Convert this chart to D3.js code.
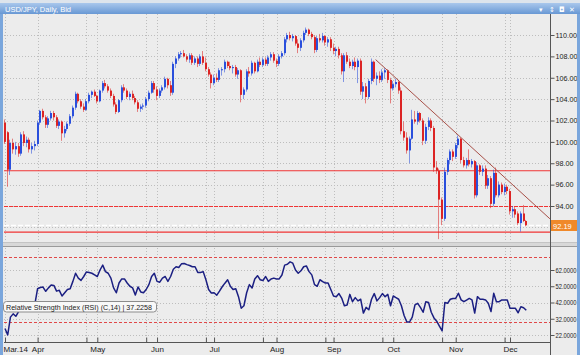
<!DOCTYPE html>
<html>
<head>
<meta charset="utf-8">
<script src="https://cdn.jsdelivr.net/npm/d3@7/dist/d3.min.js"></script>
<style>
  html, body { margin: 0; padding: 0; background: #ececec; }
  svg { display: block; font-family: "Liberation Sans", Arial, sans-serif; }
</style>
</head>
<body>
<div id="chart"></div>
<script>
// USD/JPY daily bars, one row per trading day: open, high, low, close
const ohlc = [
  [101.8,102.1,99.8,100.0],[100.9,101.0,95.8,97.4],[97.4,100.2,96.9,99.9],[99.9,100.3,98.9,99.3],
  [99.3,100.0,98.8,99.6],[99.6,99.9,98.6,98.9],[98.9,100.9,98.7,100.7],[100.7,101.0,99.6,99.9],
  [99.9,100.5,99.5,100.2],[100.2,100.4,99.0,99.3],[99.3,99.9,98.9,99.6],[99.6,100.1,99.2,99.8],
  [99.8,102.0,99.6,101.8],[101.8,103.0,101.6,102.9],[102.9,103.1,102.1,102.3],[102.3,102.5,101.3,101.6],
  [101.6,102.4,101.3,102.2],[102.2,102.9,102.0,102.7],[102.7,102.9,102.0,102.3],[102.3,102.5,101.3,101.5],
  [101.5,102.1,101.2,101.9],[101.9,102.0,100.1,100.8],[100.8,101.5,100.4,101.2],[101.2,101.9,101.0,101.7],
  [101.7,102.6,101.5,102.4],[102.4,103.4,102.2,103.2],[103.2,104.7,103.0,104.5],[104.5,104.6,103.6,103.8],
  [103.8,104.0,103.1,103.3],[103.3,103.6,102.8,103.0],[103.0,104.0,102.9,103.8],[103.8,104.6,103.6,104.4],
  [104.4,104.8,104.1,104.7],[104.7,104.9,104.2,104.3],[104.3,104.4,103.6,103.8],[103.8,104.9,103.7,104.8],
  [104.8,105.7,104.6,105.5],[105.5,105.8,105.0,105.2],[105.2,105.4,104.6,104.8],[104.8,105.0,104.1,104.3],
  [104.3,104.5,103.3,103.5],[103.5,103.7,102.6,102.8],[102.8,104.0,102.7,103.9],[103.9,105.3,103.7,105.1],
  [105.1,105.4,104.6,104.8],[104.8,105.0,104.0,104.2],[104.2,104.7,103.9,104.5],[104.5,104.8,103.9,104.1],
  [104.1,104.3,103.5,103.7],[103.7,103.9,102.8,103.1],[103.1,103.5,102.8,103.3],[103.3,103.6,103.0,103.4],
  [103.4,104.2,103.2,104.0],[104.0,104.8,103.8,104.6],[104.6,105.7,104.5,105.5],[105.5,105.7,104.6,104.9],
  [104.9,105.2,103.9,104.3],[104.3,105.0,104.1,104.8],[104.8,105.3,104.6,105.1],[105.1,106.1,104.9,105.9],
  [105.9,106.0,105.0,105.3],[105.3,105.7,104.3,104.6],[104.6,107.5,104.4,107.3],[107.3,108.0,106.9,107.8],
  [107.8,108.4,107.6,108.2],[108.2,108.5,107.9,108.3],[108.3,108.6,107.9,108.0],[108.0,108.2,107.5,107.7],
  [107.7,108.3,107.4,108.1],[108.1,108.3,107.2,107.4],[107.4,108.0,107.2,107.8],[107.8,108.0,107.0,107.3],
  [107.3,108.2,107.1,108.0],[108.0,108.5,107.2,107.4],[107.4,107.9,106.6,106.8],[106.8,107.0,106.1,106.3],
  [106.3,106.5,105.0,105.5],[105.5,106.3,105.3,106.0],[106.0,106.4,105.6,105.8],[105.8,106.9,105.6,106.7],
  [106.7,107.0,106.2,106.8],[106.8,107.7,106.5,107.5],[107.5,107.6,106.9,107.1],[107.1,107.5,106.7,106.9],
  [106.9,107.2,106.4,107.0],[107.0,107.2,106.1,106.3],[106.3,106.9,105.9,106.7],[106.7,106.8,103.7,104.4],
  [104.4,105.1,104.0,104.9],[104.9,106.8,104.7,106.6],[106.6,107.0,106.1,106.4],[106.4,107.6,106.2,107.4],
  [107.4,107.5,106.4,106.6],[106.6,107.7,106.5,107.5],[107.5,107.9,107.0,107.2],[107.2,107.9,107.0,107.7],
  [107.7,107.9,107.1,107.3],[107.3,108.1,107.1,107.9],[107.9,108.4,107.6,108.2],[108.2,108.4,107.4,107.6],
  [107.6,107.8,107.0,107.3],[107.3,108.2,107.1,108.0],[108.0,108.5,107.8,108.3],[108.3,109.8,108.1,109.6],
  [109.6,110.2,109.3,110.0],[110.0,110.3,109.5,109.7],[109.7,110.1,109.4,109.9],[109.9,110.0,109.0,109.2],
  [109.2,109.6,108.3,108.8],[108.8,109.7,108.5,109.5],[109.5,110.4,109.3,110.2],[110.2,110.7,110.0,110.5],
  [110.5,110.6,109.9,110.1],[110.1,110.3,109.6,109.8],[109.8,110.0,108.3,108.6],[108.6,109.9,108.4,109.7],
  [109.7,110.1,109.3,109.5],[109.5,110.2,109.3,109.9],[109.9,110.0,109.0,109.3],[109.3,109.8,108.9,109.6],
  [109.6,109.8,108.5,108.8],[108.8,109.2,108.2,108.5],[108.5,108.9,108.0,108.7],[108.7,108.9,107.8,108.1],
  [108.1,108.3,106.3,106.6],[106.6,108.3,105.6,108.1],[108.1,108.4,107.3,107.5],[107.5,107.8,106.9,107.1],
  [107.1,107.7,106.8,107.5],[107.5,107.9,106.7,107.0],[107.0,107.8,105.5,107.6],[107.6,107.8,104.4,104.7],
  [104.7,105.6,104.0,105.2],[105.2,105.5,103.6,104.2],[104.2,105.9,104.0,105.7],[105.7,107.8,105.4,107.5],
  [107.5,107.6,105.6,105.9],[105.9,106.5,105.3,106.2],[106.2,106.6,105.5,105.8],[105.8,106.8,105.6,106.5],
  [106.5,106.9,105.9,106.7],[106.7,106.8,105.5,105.8],[105.8,106.0,103.6,105.0],[105.0,105.7,104.8,105.4],
  [105.4,105.9,105.1,105.6],[105.6,105.8,104.5,104.8],[104.8,105.1,100.7,101.0],[101.0,101.9,100.1,100.4],
  [100.4,100.9,98.9,99.2],[99.2,100.5,98.0,100.3],[100.3,103.0,100.2,102.1],[102.1,102.9,101.7,101.9],
  [101.9,102.9,101.6,102.7],[102.7,102.8,101.8,102.0],[102.0,102.2,99.7,100.1],[100.1,101.7,99.8,101.4],
  [101.4,102.3,101.1,102.0],[102.0,102.2,101.0,101.3],[101.3,101.5,97.2,97.6],[97.6,98.2,97.0,97.3],
  [97.3,97.5,90.9,94.6],[94.6,94.8,92.2,92.8],[92.8,97.6,92.6,97.2],[97.2,98.5,96.9,98.3],
  [98.3,99.3,97.9,99.1],[99.1,99.3,98.2,98.6],[98.6,99.9,98.4,99.7],[99.7,100.6,99.4,100.3],
  [100.3,100.4,98.0,98.3],[98.3,98.6,97.6,97.8],[97.8,98.5,97.5,98.3],[98.3,99.3,97.7,97.9],
  [97.9,98.4,97.6,98.2],[98.2,98.3,94.7,95.0],[95.0,98.1,94.8,97.8],[97.8,97.9,96.9,97.2],
  [97.2,97.8,96.8,97.5],[97.5,97.8,95.6,95.9],[95.9,96.9,95.6,96.6],[96.6,96.8,93.8,94.2],
  [94.2,97.4,94.0,97.1],[97.1,97.6,94.8,95.0],[95.0,96.3,94.8,96.0],[96.0,96.2,95.1,95.3],
  [95.3,96.1,95.0,95.8],[95.8,96.0,95.1,95.4],[95.4,95.6,93.2,93.5],[93.5,94.0,92.9,93.7],
  [93.7,93.9,92.9,93.2],[93.3,93.5,92.2,92.4],[92.4,93.5,91.6,93.3],[93.3,94.1,92.5,92.6],
  [92.6,92.7,92.1,92.19]
];

// RSI(14) on close, one value per bar
const rsi = [
  26,22,33,35,33.5,36.4,37.5,39,38,40.5,39,41,50.5,51.2,51.5,48.9,51,52.8,52.5,49,
  49.5,46,48,50,50.5,55,60,57,55.6,58,60.8,60.5,60,59,58,62,65,61,60,57,
  51,48,54,56.5,56.5,54,52,51,46.6,51.6,48.5,48,50,53,58,60,55,54.5,57,58,
  55,58,62.5,64,63.5,65.8,66,65.3,64.8,64,64,60.5,60.5,61,56,50,47.8,48,46.5,49,
  51.7,53.9,56,52,50,50.5,45.6,38.5,40,48,53,50.9,56.5,58.5,56,55.5,58,55,56.5,57,
  56.5,56.5,58.9,65,65.5,67,66.2,62,60,61.5,64,64.5,61,59,53,52,56,54.9,54,54,
  50,46,45.5,47.5,44.7,40,40.4,47,42.5,45,43,44,35.5,39,37.5,44,47.5,43,45,47.5,
  45.6,47,40,46,45,44,40,34,30,30,33,40.5,41.5,39,36,42.5,42,36,32.5,30.5,
  27.5,24.5,42,41.5,44,44.5,44.5,47.7,43.6,42.5,43.5,44.5,43.6,35.5,45.6,44,44,43.6,41.5,36.4,
  47.7,42.5,42.5,43.6,43.6,43.6,38.4,38.4,38.4,35.7,39.4,38.8,37.2
];

const monthTicks = [0, 12, 34, 56, 77, 100, 121, 143, 166, 186];
const monthLabels = ["Mar.14", "Apr", "May", "Jun", "Jul", "Aug", "Sep", "Oct", "Nov", "Dec"];
const weekTicks = [30, 52, 74, 95, 118, 139, 161, 184];
const priceTicks = [94, 96, 98, 100, 102, 104, 106, 108, 110];
const rsiTicks = [22, 32, 42, 52, 62];
const rsiBands = [30, 70];
const solidLevels = [97.3, 91.55];
const dashedLevels = [94];
const lastPrice = 92.19;
const lastRsi = "37.2258";
const trendline = [[136.5, 107.7], [200.7, 92.8]];

const width = 580, height = 355;
const left = 4, axisX = 550;
const mainTop = 14, mainBottom = 242, rsiTop = 248, rsiBottom = 342;
const upColor = "#2a4fdc", downColor = "#dc2424";
const levelColor = "#f03434";

const x = d3.scaleLinear().domain([0, 186]).range([5, 510]);
const y = d3.scaleLinear().domain([94, 110]).range([206, 35]);
const yR = d3.scaleLinear().domain([22, 62]).range([335, 270]);
const px = i => Math.round(x(i));
const crisp = v => Math.round(v) + 0.5;

const svg = d3.select("#chart").append("svg")
    .attr("width", width)
    .attr("height", height)
    .attr("viewBox", [0, 0, width, height]);

const defs = svg.append("defs");
defs.append("clipPath").attr("id", "clipMain")
  .append("rect").attr("x", left).attr("y", mainTop).attr("width", axisX - left).attr("height", mainBottom - mainTop);
defs.append("clipPath").attr("id", "clipRsi")
  .append("rect").attr("x", left).attr("y", rsiTop).attr("width", axisX - left).attr("height", rsiBottom - rsiTop);
const grad = defs.append("linearGradient").attr("id", "bar").attr("x1", 0).attr("y1", 0).attr("x2", 0).attr("y2", 1);
grad.append("stop").attr("offset", 0).attr("stop-color", "#a9c7ec");
grad.append("stop").attr("offset", 1).attr("stop-color", "#6898d4");

svg.append("rect").attr("width", width).attr("height", height).attr("fill", "#ececec");

// title bar
svg.append("rect").attr("width", width).attr("height", 3).attr("fill", "#dde4ec");
svg.append("rect").attr("y", 3).attr("width", width).attr("height", 11).attr("fill", "url(#bar)");
svg.append("text").attr("x", 5).attr("y", 11.5).attr("font-size", 7.5).attr("fill", "#fff")
  .text("USD/JPY, Daily, Bid");
svg.append("g").selectAll("text").data(["▾", "↕", "◘", "✕"]).join("text")
  .attr("x", (d, i) => 539 + i * 10).attr("y", 11.5).attr("font-size", 7).attr("fill", "#fff")
  .attr("font-family", "DejaVu Sans").text(d => d);

// grids
const gridColor = "#bdbdbd";
const allTicks = monthTicks.concat(weekTicks);
[[mainTop, mainBottom], [rsiTop, rsiBottom]].forEach(([t, b]) => {
  svg.append("g").selectAll("line").data(allTicks).join("line")
    .attr("x1", d => px(d) + 0.5).attr("x2", d => px(d) + 0.5)
    .attr("y1", t).attr("y2", b)
    .attr("stroke", gridColor).attr("stroke-dasharray", "1,2");
});
svg.append("g").selectAll("line").data(priceTicks.concat([92])).join("line")
  .attr("x1", left).attr("x2", axisX)
  .attr("y1", d => crisp(y(d))).attr("y2", d => crisp(y(d)))
  .attr("stroke", gridColor).attr("stroke-dasharray", "1,2");
svg.append("g").selectAll("line").data(rsiTicks).join("line")
  .attr("x1", left).attr("x2", axisX)
  .attr("y1", d => crisp(yR(d))).attr("y2", d => crisp(yR(d)))
  .attr("stroke", gridColor).attr("stroke-dasharray", "1,2");

// horizontal levels
const main = svg.append("g").attr("clip-path", "url(#clipMain)");
main.append("g").selectAll("line").data(solidLevels).join("line")
  .attr("x1", left).attr("x2", axisX)
  .attr("y1", d => y(d)).attr("y2", d => y(d))
  .attr("stroke", levelColor).attr("stroke-width", 1.2);
main.append("g").selectAll("line").data(dashedLevels).join("line")
  .attr("x1", left).attr("x2", axisX)
  .attr("y1", d => crisp(y(d))).attr("y2", d => crisp(y(d)))
  .attr("stroke", levelColor).attr("stroke-width", 1.2).attr("stroke-dasharray", "4,1");
main.append("line")
  .attr("x1", left).attr("x2", axisX)
  .attr("y1", crisp(y(lastPrice))).attr("y2", crisp(y(lastPrice)))
  .attr("stroke", "#ffffff").attr("stroke-width", 1.5).attr("stroke-dasharray", "5,2");

// candles
main.append("g").selectAll("line").data(ohlc).join("line")
  .attr("x1", (d, i) => px(i) - 0.5).attr("x2", (d, i) => px(i) - 0.5)
  .attr("y1", d => y(d[1])).attr("y2", d => y(d[2]))
  .attr("stroke", d => d[3] >= d[0] ? upColor : downColor)
  .attr("stroke-opacity", 0.55);
main.append("g").selectAll("rect").data(ohlc).join("rect")
  .attr("x", (d, i) => px(i) - 1)
  .attr("width", 2)
  .attr("y", d => y(Math.max(d[0], d[3])))
  .attr("height", d => Math.max(1, Math.abs(y(d[0]) - y(d[3]))))
  .attr("fill", d => d[3] >= d[0] ? upColor : downColor);

// trendline
main.append("line")
  .attr("x1", x(trendline[0][0])).attr("y1", y(trendline[0][1]))
  .attr("x2", x(trendline[1][0])).attr("y2", y(trendline[1][1]))
  .attr("stroke", "#a85048").attr("stroke-width", 1);

// pane separator
svg.append("rect").attr("x", 3).attr("y", 242).attr("width", 574).attr("height", 5).attr("fill", "#d8d8d8");
svg.append("line").attr("x1", 3).attr("x2", 577).attr("y1", 242.5).attr("y2", 242.5).attr("stroke", "#c4c4c4");
svg.append("line").attr("x1", 3).attr("x2", 577).attr("y1", 246.5).attr("y2", 246.5).attr("stroke", "#9a9a9a");

// rsi pane
const rp = svg.append("g").attr("clip-path", "url(#clipRsi)");
rp.append("g").selectAll("line").data(rsiBands).join("line")
  .attr("x1", left).attr("x2", axisX)
  .attr("y1", d => crisp(yR(d))).attr("y2", d => crisp(yR(d)))
  .attr("stroke", "#e04848").attr("stroke-dasharray", "3,2");
rp.append("path").datum(rsi)
  .attr("fill", "none").attr("stroke", "#1b1f82").attr("stroke-width", 1.5)
  .attr("stroke-linejoin", "round")
  .attr("d", d3.line().x((d, i) => x(i)).y(d => yR(d)));

// rsi legend box
svg.append("rect").attr("x", 3.5).attr("y", 301.5).attr("width", 153).attr("height", 10.5).attr("rx", 3)
  .attr("fill", "#f8f8f8").attr("stroke", "#8c8c8c");
svg.append("text").attr("x", 6).attr("y", 309.6).attr("font-size", 7.5).attr("fill", "#222")
  .attr("textLength", 146).attr("lengthAdjust", "spacingAndGlyphs")
  .text(`Relative Strength Index (RSI) (C,14) | ${lastRsi}`);

// axes
svg.append("line").attr("x1", axisX + 0.5).attr("x2", axisX + 0.5).attr("y1", mainTop).attr("y2", height)
  .attr("stroke", "#555");
svg.append("line").attr("x1", left).attr("x2", axisX).attr("y1", rsiBottom + 0.5).attr("y2", rsiBottom + 0.5)
  .attr("stroke", "#555");

svg.append("g")
  .attr("transform", `translate(${axisX + 0.5},0)`)
  .call(d3.axisRight(y).tickValues(priceTicks).tickFormat(d3.format(".2f")).tickSize(4).tickPadding(1))
  .call(g => g.select(".domain").remove())
  .call(g => g.selectAll("text").attr("font-size", 7.2).attr("fill", "#222").attr("font-family", "Liberation Sans"))
  .call(g => g.selectAll("line").attr("stroke", "#555"));

svg.append("g")
  .attr("transform", `translate(${axisX + 0.5},0)`)
  .call(d3.axisRight(yR).tickValues(rsiTicks).tickFormat(d3.format(".4f")).tickSize(4).tickPadding(1))
  .call(g => g.select(".domain").remove())
  .call(g => g.selectAll("text").attr("font-size", 7.2).attr("fill", "#222").attr("font-family", "Liberation Sans")
    .attr("textLength", 21).attr("lengthAdjust", "spacingAndGlyphs"))
  .call(g => g.selectAll("line").attr("stroke", "#555"));

// last price tag
svg.append("rect").attr("x", 551).attr("y", Math.round(y(lastPrice)) - 5).attr("width", 26).attr("height", 11)
  .attr("fill", "#f0892a");
svg.append("text").attr("x", 553).attr("y", Math.round(y(lastPrice)) + 3.5)
  .attr("font-size", 7.5).attr("fill", "#fff").text(lastPrice.toFixed(2));

svg.append("g")
  .attr("transform", `translate(0,${rsiBottom + 0.5})`)
  .call(d3.axisBottom(x).tickValues(monthTicks).tickSize(-5).tickPadding(4)
    .tickFormat((d, i) => monthLabels[i]))
  .call(g => g.select(".domain").remove())
  .call(g => g.selectAll("text").attr("font-size", 8).attr("fill", "#222").attr("font-family", "Liberation Sans"))
  .call(g => g.selectAll(".tick").filter(d => d === 0).select("text")
    .attr("text-anchor", "start").attr("x", 3 - x(0)))
  .call(g => g.selectAll("line").attr("stroke", "#555"));
svg.append("g")
  .attr("transform", `translate(0,${rsiBottom + 0.5})`)
  .call(d3.axisBottom(x).tickValues(weekTicks).tickSize(-5).tickFormat(""))
  .call(g => g.select(".domain").remove())
  .call(g => g.selectAll("line").attr("stroke", "#555"));

// window side borders
svg.append("rect").attr("x", 0).attr("y", 14).attr("width", 3).attr("height", height - 14).attr("fill", "#7aa6dc");
svg.append("rect").attr("x", 577).attr("y", 14).attr("width", 3).attr("height", height - 14).attr("fill", "#7aa6dc");
</script>
</body>
</html>
